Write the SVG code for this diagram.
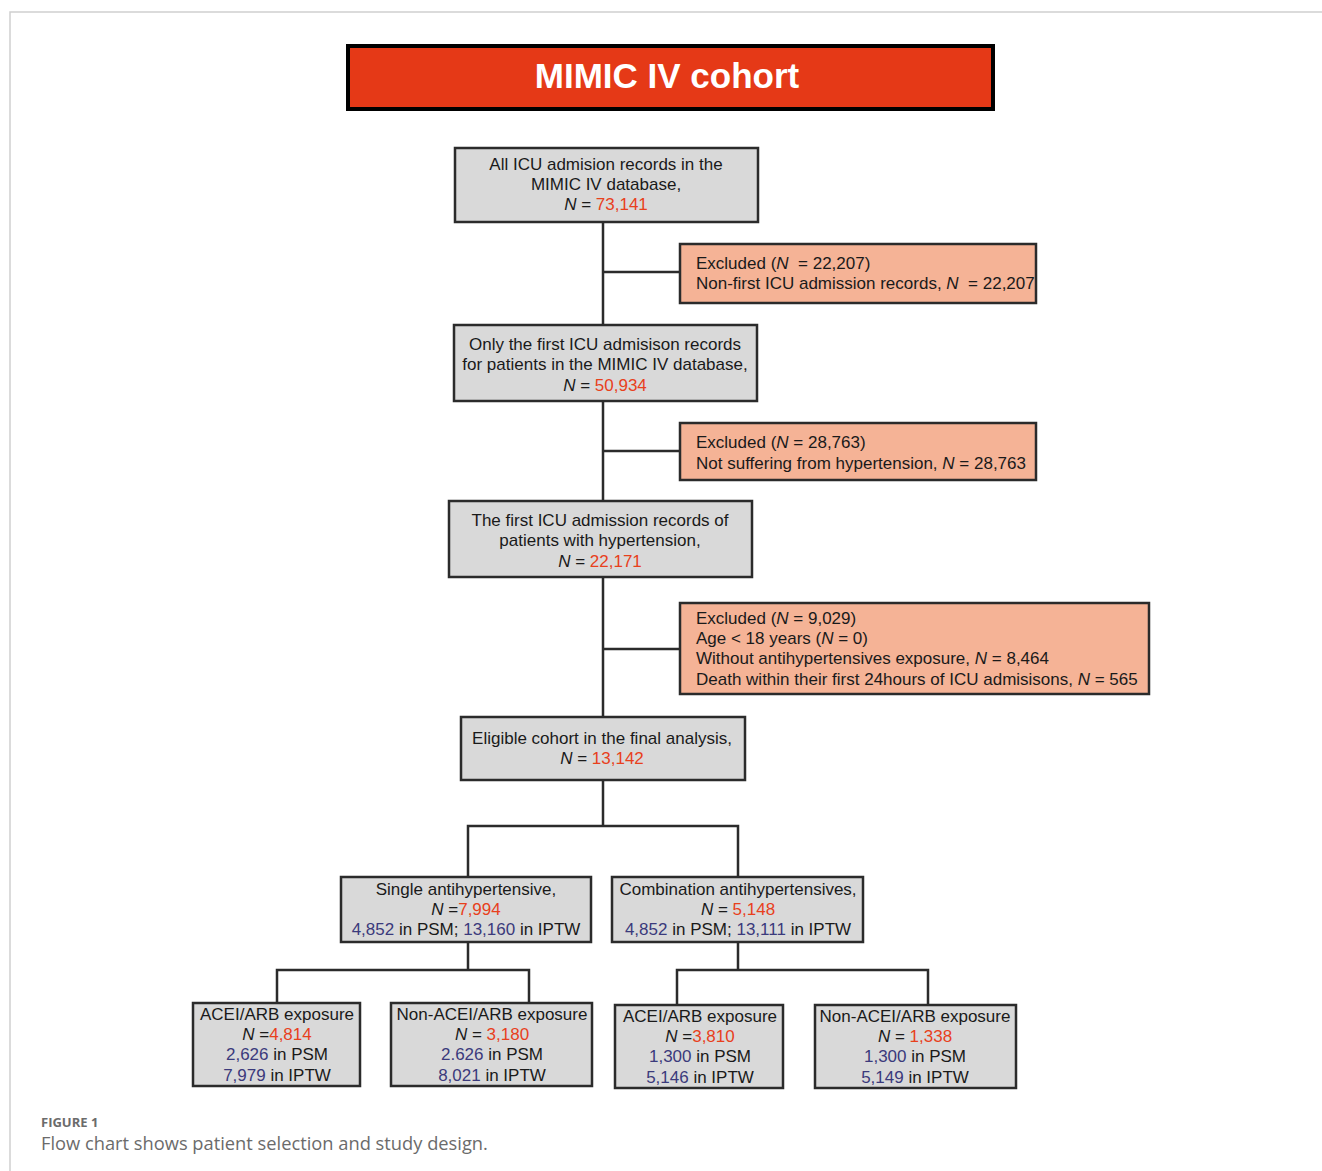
<svg xmlns="http://www.w3.org/2000/svg" width="1322" height="1171" viewBox="0 0 1322 1171">
<style>
.frame{fill:none;stroke:#d0d0d0;stroke-width:1.5}
.box{fill:#d9d9d9;stroke:#2b2b2b;stroke-width:2.5}
.exc{fill:#f5b396;stroke:#2b2b2b;stroke-width:2.5}
.t{font-family:"Liberation Sans",Arial,sans-serif;font-size:17px;fill:#1a1a1a}
.c{text-anchor:middle}
.r{fill:#e8401c}
.b{fill:#3b3a7c}
.i{font-style:italic}
.ln{fill:none;stroke:#2b2b2b;stroke-width:2.5}
.cap{font-family:"Open Sans","Liberation Sans",sans-serif;fill:#6b6b6b}
</style>
<rect width="1322" height="1171" fill="#fff"/>
<path class="frame" d="M10,1171 V12 H1322"/>
<g id="title">
<rect x="348" y="46" width="645" height="63" fill="#e53917" stroke="#000" stroke-width="4"/>
<text x="667" y="88" text-anchor="middle" font-family="Liberation Sans,Arial,sans-serif" font-weight="bold" font-size="35" fill="#fff">MIMIC IV cohort</text>
</g>
<g id="connectors">
<path class="ln" d="M603,222 V717 M603,272 H680 M603,451 H680 M603,649 H680"/>
<path class="ln" d="M603,780 V826 M468,877 V826 H738 V877"/>
<path class="ln" d="M468,942 V970 M277,1003 V970 H529 V1003"/>
<path class="ln" d="M738,942 V970 M677,1005 V970 H928 V1005"/>
</g>
<g id="n1">
<rect class="box" x="455" y="148" width="303" height="74"/>
<text class="t c" x="606" y="170">All ICU admision records in the</text>
<text class="t c" x="606" y="190">MIMIC IV database,</text>
<text class="t c" x="606" y="210"><tspan class="i">N</tspan> = <tspan class="r">73,141</tspan></text>
</g>
<g id="e1">
<rect class="exc" x="680" y="244" width="356" height="59"/>
<text class="t" x="696" y="269">Excluded (<tspan class="i">N</tspan>&#160; = 22,207)</text>
<text class="t" x="696" y="289">Non-first ICU admission records, <tspan class="i">N</tspan>&#160; = 22,207</text>
</g>
<g id="n2">
<rect class="box" x="454" y="325" width="303" height="76"/>
<text class="t c" x="605" y="350">Only the first ICU admisison records</text>
<text class="t c" x="605" y="370">for patients in the MIMIC IV database,</text>
<text class="t c" x="605" y="391"><tspan class="i">N</tspan> = <tspan class="r">50,934</tspan></text>
</g>
<g id="e2">
<rect class="exc" x="680" y="423" width="356" height="57"/>
<text class="t" x="696" y="448">Excluded (<tspan class="i">N</tspan> = 28,763)</text>
<text class="t" x="696" y="469">Not suffering from hypertension, <tspan class="i">N</tspan> = 28,763</text>
</g>
<g id="n3">
<rect class="box" x="449" y="501" width="303" height="76"/>
<text class="t c" x="600" y="526">The first ICU admission records of</text>
<text class="t c" x="600" y="546">patients with hypertension,</text>
<text class="t c" x="600" y="567"><tspan class="i">N</tspan> = <tspan class="r">22,171</tspan></text>
</g>
<g id="e3">
<rect class="exc" x="680" y="603" width="469" height="91"/>
<text class="t" x="696" y="624">Excluded (<tspan class="i">N</tspan> = 9,029)</text>
<text class="t" x="696" y="644">Age &lt; 18 years (<tspan class="i">N</tspan> = 0)</text>
<text class="t" x="696" y="664">Without antihypertensives exposure, <tspan class="i">N</tspan> = 8,464</text>
<text class="t" x="696" y="685">Death within their first 24hours of ICU admisisons, <tspan class="i">N</tspan> = 565</text>
</g>
<g id="n4">
<rect class="box" x="461" y="717" width="284" height="63"/>
<text class="t c" x="602" y="744">Eligible cohort in the final analysis,</text>
<text class="t c" x="602" y="764"><tspan class="i">N</tspan> = <tspan class="r">13,142</tspan></text>
</g>
<g id="n5">
<rect class="box" x="341" y="877" width="250" height="65"/>
<text class="t c" x="466" y="895">Single antihypertensive,</text>
<text class="t c" x="466" y="915"><tspan class="i">N</tspan> =<tspan class="r">7,994</tspan></text>
<text class="t c" x="466" y="935"><tspan class="b">4,852</tspan> in PSM; <tspan class="b">13,160</tspan> in IPTW</text>
</g>
<g id="n6">
<rect class="box" x="612" y="877" width="251" height="65"/>
<text class="t c" x="738" y="895">Combination antihypertensives,</text>
<text class="t c" x="738" y="915"><tspan class="i">N</tspan> = <tspan class="r">5,148</tspan></text>
<text class="t c" x="738" y="935"><tspan class="b">4,852</tspan> in PSM; <tspan class="b">13,111</tspan> in IPTW</text>
</g>
<g id="n7">
<rect class="box" x="193" y="1003" width="167" height="83"/>
<text class="t c" x="277" y="1020">ACEI/ARB exposure</text>
<text class="t c" x="277" y="1040"><tspan class="i">N</tspan> =<tspan class="r">4,814</tspan></text>
<text class="t c" x="277" y="1060"><tspan class="b">2,626</tspan> in PSM</text>
<text class="t c" x="277" y="1081"><tspan class="b">7,979</tspan> in IPTW</text>
</g>
<g id="n8">
<rect class="box" x="391" y="1003" width="201" height="83"/>
<text class="t c" x="492" y="1020">Non-ACEI/ARB exposure</text>
<text class="t c" x="492" y="1040"><tspan class="i">N</tspan> = <tspan class="r">3,180</tspan></text>
<text class="t c" x="492" y="1060"><tspan class="b">2.626</tspan> in PSM</text>
<text class="t c" x="492" y="1081"><tspan class="b">8,021</tspan> in IPTW</text>
</g>
<g id="n9">
<rect class="box" x="615" y="1005" width="168" height="83"/>
<text class="t c" x="700" y="1022">ACEI/ARB exposure</text>
<text class="t c" x="700" y="1042"><tspan class="i">N</tspan> =<tspan class="r">3,810</tspan></text>
<text class="t c" x="700" y="1062"><tspan class="b">1,300</tspan> in PSM</text>
<text class="t c" x="700" y="1083"><tspan class="b">5,146</tspan> in IPTW</text>
</g>
<g id="n10">
<rect class="box" x="815" y="1005" width="201" height="83"/>
<text class="t c" x="915" y="1022">Non-ACEI/ARB exposure</text>
<text class="t c" x="915" y="1042"><tspan class="i">N</tspan> = <tspan class="r">1,338</tspan></text>
<text class="t c" x="915" y="1062"><tspan class="b">1,300</tspan> in PSM</text>
<text class="t c" x="915" y="1083"><tspan class="b">5,149</tspan> in IPTW</text>
</g>
<g id="caption">
<text class="cap" x="41" y="1127" font-size="13" font-weight="bold">FIGURE 1</text>
<text class="cap" x="41" y="1150" font-size="18.3">Flow chart shows patient selection and study design.</text>
</g>
</svg>
